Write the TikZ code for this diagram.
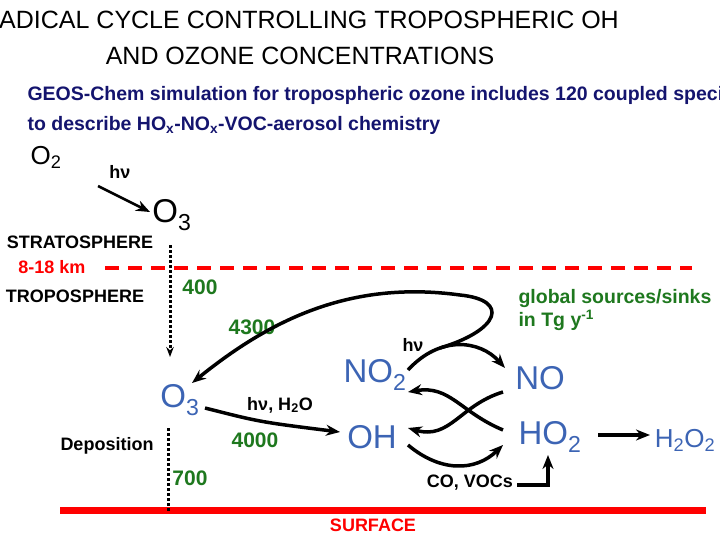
\documentclass[tikz,border=0pt]{standalone}
\usepackage{fontspec}
\setmainfont{Liberation Sans}
\usetikzlibrary{arrows.meta}
\definecolor{spc}{RGB}{60,100,180}
\definecolor{flux}{RGB}{30,120,30}
\definecolor{navy}{RGB}{20,20,110}
\newcommand{\sub}[1]{\textsubscript{#1}}
\tikzset{
  species/.style={text=spc, font=\fontsize{33}{36}\selectfont},
  num/.style={text=flux, font=\bfseries\fontsize{21}{24}\selectfont},
  lbl/.style={font=\bfseries\fontsize{18}{20}\selectfont},
  flow/.style={-{Stealth[length=14pt,width=11pt]}, line width=3.5pt},
}
\begin{document}
\begin{tikzpicture}[x=1pt,y=-1pt]
\useasboundingbox (0,0) rectangle (720,540);
% title
\node (title) at (300,38) [align=center, font=\fontsize{25}{36}\selectfont]
  {RADICAL CYCLE CONTROLLING TROPOSPHERIC OH\\AND OZONE CONCENTRATIONS};
\node (subt) at (24,110) [anchor=west, align=left, text=navy, font=\bfseries\fontsize{19.5}{30}\selectfont]
  {GEOS-Chem simulation for tropospheric ozone includes 120 coupled species\\
   to describe HO\sub{x}-NO\sub{x}-VOC-aerosol chemistry};
% stratosphere
\node (o2) at (46,157) [font=\fontsize{26}{28}\selectfont] {O\sub{2}};
\node (hv1) at (120,172) [lbl] {hν};
\node (o3s) at (172,215) [font=\fontsize{33}{36}\selectfont] {O\sub{3}};
\draw[flow, line width=2.5pt] (98,186) -- (150,212);
\node (strat) at (80,242) [lbl] {STRATOSPHERE};
\node (km) at (52,267) [lbl, text=red] {8-18 km};
\node (trop) at (75,296) [lbl] {TROPOSPHERE};
\draw[red, line width=4pt, dash pattern=on 14pt off 9pt] (105,268) -- (692,268);
\draw[red, line width=7pt] (60,510) -- (706,510);
\node (surf) at (373,525) [lbl, text=red] {SURFACE};
% troposphere species
\node (o3) at (180,400) [species] {O\sub{3}};
\node (no2) at (375,375) [species] {NO\sub{2}};
\node (no) at (540,378) [species] {NO};
\node (oh) at (372,437) [species] {OH};
\node (ho2) at (550,437) [species] {HO\sub{2}};
\node (h2o2) at (685,440) [text=spc, font=\fontsize{26}{28}\selectfont] {H\sub{2}O\sub{2}};
\node (dep) at (107,446) [lbl] {Deposition};
\node (hvh2o) at (280,405) [lbl] {hν, H\sub{2}O};
\node (hv2) at (413,345) [lbl] {hν};
\node (co) at (470,483) [lbl] {CO, VOCs};
\node (glob) at (515,310) [anchor=west, align=left, num, font=\bfseries\fontsize{19.5}{24}\selectfont]
  {global sources/sinks\\in Tg y\textsuperscript{-1}};
\node (f400) at (200,287) [num] {400};
\node (f4300) at (252,327) [num] {4300};
\node (f4000) at (255,440) [num] {4000};
\node (f700) at (190,478) [num] {700};
% fluxes
\draw[-{Stealth[length=10pt]}, line width=3pt, dotted] (170,245) -- (170,357);
\draw[line width=3pt, dotted] (168,428) -- (168,512);
\draw[flow] (205,408) .. controls (260,422) .. (340,432);
\draw[flow] (408,370) .. controls (440,335) and (480,340) .. (505,368);
\draw[flow] (440,348) .. controls (500,330) and (510,300) .. (460,295)
  .. controls (350,280) and (270,320) .. (192,383);
\draw[flow] (503,392) .. controls (460,405) and (450,440) .. (408,428);
\draw[flow] (503,430) .. controls (460,412) and (450,385) .. (408,392);
\draw[flow] (408,445) .. controls (440,472) and (475,472) .. (503,445);
\draw[flow] (517,485) -- (548,485) -- (548,455);
\draw[flow] (598,435) -- (650,435);
\end{tikzpicture}
\end{document}
